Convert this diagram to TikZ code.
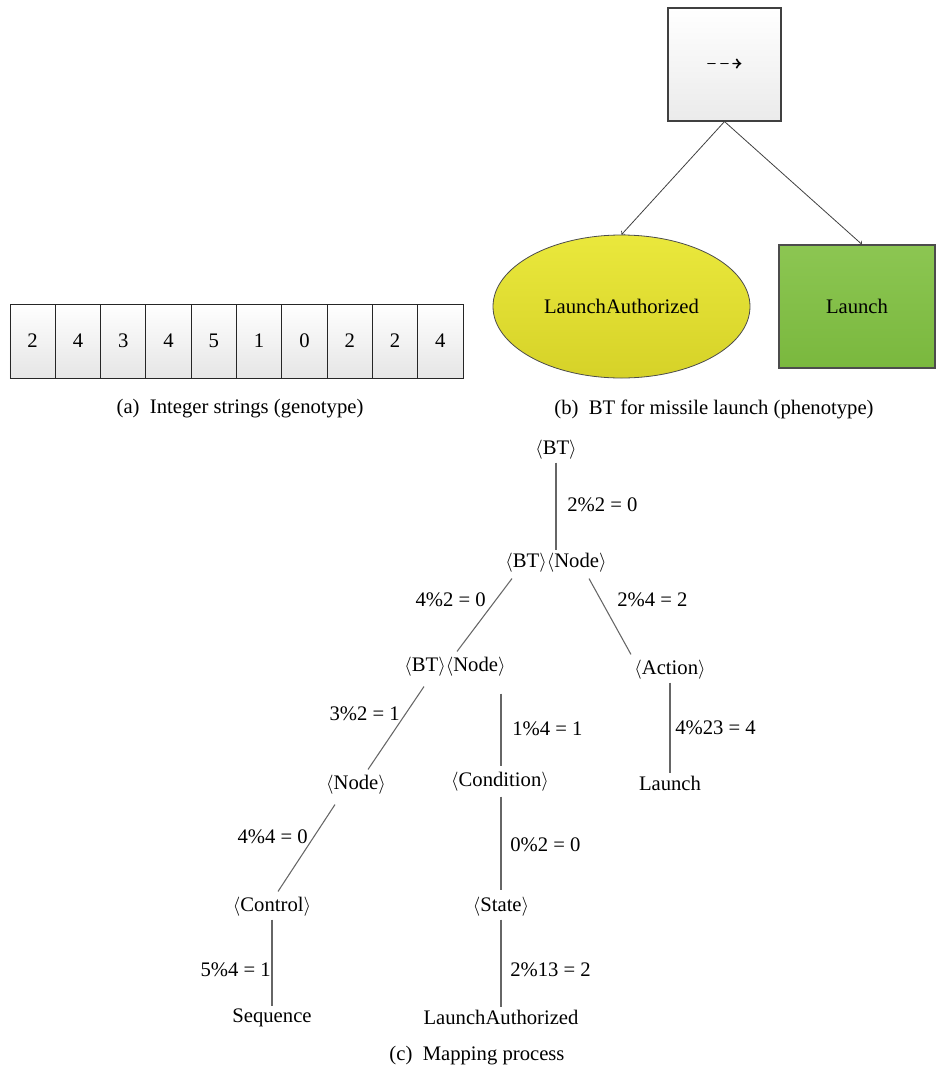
\documentclass[tikz,border=0pt]{standalone}
\usepackage{amsmath,amssymb}
\usepackage{fontspec}
\setmainfont{Liberation Serif}
\usetikzlibrary{shapes.geometric,calc}
\newcommand{\ang}[1]{$\langle$#1$\rangle$}
\begin{document}
\begin{tikzpicture}[x=0.75pt,y=-0.75pt,
  every node/.style={font=\fontsize{15.5}{18}\selectfont, inner sep=2pt},
  cell/.style={draw=black!85, line width=0.6pt, top color=white, bottom color=black!10,
    minimum width=33.98pt, minimum height=55.5pt, inner sep=0pt},
  seqbox/.style={draw=black!75, line width=0.8pt, top color=white, bottom color=black!8,
    minimum width=84.75pt, minimum height=84.75pt, inner sep=0pt},
  condell/.style={ellipse, draw=black!70, line width=0.6pt, top color={rgb,255:red,234;green,232;blue,60},
    bottom color={rgb,255:red,214;green,210;blue,40}, minimum width=192.75pt, minimum height=107.25pt, inner sep=0pt},
  actbox/.style={draw=black!70, line width=0.8pt, top color={rgb,255:red,140;green,198;blue,82},
    bottom color={rgb,255:red,122;green,184;blue,62}, minimum width=117pt, minimum height=92.25pt, inner sep=0pt},
  btarrow/.style={draw=black!75, line width=0.6pt, ->},
  edge/.style={draw=black!60, line width=0.8pt},
  rl/.style={inner sep=0pt, anchor=west},
  ll/.style={inner sep=0pt, anchor=east}]

\useasboundingbox (0,0) rectangle (936,1072);

% (a) genotype: integer string
\foreach \d [count=\i] in {2,4,3,4,5,1,0,2,2,4}
  \node[cell] (c\i) at ({10+45.3*(\i-0.5)},341) {\d};
\node (capa) at (240,409) {(a)\enspace Integer strings (genotype)};

% (b) phenotype: behaviour tree
\node[seqbox] (seq) at (724.5,64.5) {\scalebox{1.25}{$\boldsymbol{\dashrightarrow}$}};
\node[condell] (cond) at (621.5,306.5) {LaunchAuthorized};
\node[actbox] (act) at (857,306.5) {Launch};
\draw[btarrow] (seq.south) -- (cond.north);
\draw[btarrow] (seq.south) -- ($(act.north)+(5,0)$);
\node (capb) at (714,409) {(b)\enspace BT for missile launch (phenotype)};

% (c) mapping process
\node (r)    at (556,450)  {\ang{BT}};
\node (b1)   at (556,563)  {\ang{BT}\ang{Node}};
\node (b2)   at (455,667)  {\ang{BT}\ang{Node}};
\node (act2) at (670,670)  {\ang{Action}};
\node (lau)  at (670,783)  {Launch};
\node (nd)   at (356,785)  {\ang{Node}};
\node (cnd)  at (500,782)  {\ang{Condition}};
\node (ctl)  at (272,907)  {\ang{Control}};
\node (st)   at (501,907)  {\ang{State}};
\node (sq)   at (272,1018) {Sequence};
\node (la)   at (501,1017) {LaunchAuthorized};

\draw[edge] (r.south) -- (b1.north);
\node[rl] at (567,505) {2\%2 = 0};

\draw[edge] ($(b1.south)+(-44,3)$) -- ($(b2.north)+(2,-3)$);
\node[ll] at (486,600) {4\%2 = 0};
\draw[edge] ($(b1.south)+(33,3)$) -- ($(act2.north)+(-39,-3)$);
\node[rl] at (617,600) {2\%4 = 2};

\draw[edge] (act2.south) -- (lau.north);
\node[rl] at (675,728) {4\%23 = 4};

\draw[edge] ($(b2.south)+(-31,7)$) -- ($(nd.north)+(12,-3)$);
\node[ll] at (400,714) {3\%2 = 1};
\draw[edge] ($(b2.south)+(46,14)$) -- ($(cnd.north)+(1,-3)$);
\node[rl] at (512,729) {1\%4 = 1};

\draw[edge] ($(nd.south)+(-21,7)$) -- ($(ctl.north)+(6,-3)$);
\node[ll] at (308,837) {4\%4 = 0};
\draw[edge] ($(cnd.south)+(1,2)$) -- ($(st.north)+(0,-4)$);
\node[rl] at (510,845) {0\%2 = 0};

\draw[edge] (ctl.south) -- (sq.north);
\node[ll] at (271,970) {5\%4 = 1};
\draw[edge] (st.south) -- (la.north);
\node[rl] at (510,970) {2\%13 = 2};

\node (capc) at (477,1056) {(c)\enspace Mapping process};
\end{tikzpicture}
\end{document}
